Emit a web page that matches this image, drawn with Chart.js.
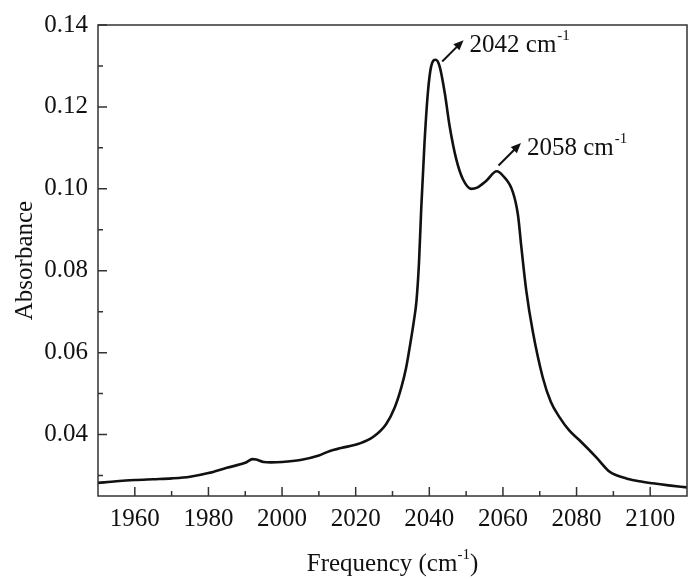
<!DOCTYPE html>
<html>
<head>
<meta charset="utf-8">
<script src="https://cdn.jsdelivr.net/npm/chart.js@4/dist/chart.umd.min.js"></script>
<style>
  html, body { margin: 0; padding: 0; background: #fff; }
  #wrap { width: 688px; height: 579px; }
</style>
</head>
<body>
<div id="wrap"><canvas id="irChart" width="688" height="579"></canvas></div>
<script>
// === Data ===
const frequency = [1950, 1955, 1960, 1965, 1970, 1975, 1980, 1985, 1990, 1992, 1993, 1995, 1997, 2000,
  2005, 2010, 2013, 2016, 2021, 2024.7, 2028.3, 2030.6, 2032.4, 2033.7, 2034.8, 2035.8, 2036.5, 2037.2, 2037.8,
  2038.7, 2039.6, 2040.5, 2041.7, 2042.8, 2044.2, 2045.5, 2047.3, 2049.1, 2051.4, 2053, 2055.5,
  2058.3, 2060, 2062.7, 2064.1, 2065, 2066.3, 2068.1, 2070.8, 2073, 2075.4, 2078, 2080.8, 2085.3,
  2089, 2091, 2093.5, 2097, 2100.7, 2105, 2110];
const absorbance = [0.0282, 0.0286, 0.0289, 0.0291, 0.0293, 0.0297, 0.0306, 0.0319, 0.0331, 0.0340, 0.0339, 0.0333, 0.0332, 0.0333,
  0.0338, 0.0349, 0.0360, 0.0367, 0.0378, 0.0394, 0.0426, 0.0466, 0.0515, 0.0563, 0.0620, 0.0677, 0.0725, 0.0820, 0.0951,
  0.1113, 0.1234, 0.1299, 0.1315, 0.1299, 0.1234, 0.1154, 0.1073, 0.1024, 0.1000, 0.1003, 0.1020,
  0.1043, 0.1032, 0.0992, 0.0935, 0.0858, 0.0754, 0.0652, 0.0540, 0.0480, 0.0442, 0.0410, 0.0386, 0.0345,
  0.0309, 0.0300, 0.0293, 0.0286, 0.0281, 0.0276, 0.0271];

const xMajorTicks = [1960, 1980, 2000, 2020, 2040, 2060, 2080, 2100];
const xMinorTicks = [1970, 1990, 2010, 2030, 2050, 2070, 2090];
const yMajorTicks = [0.04, 0.06, 0.08, 0.10, 0.12, 0.14];
const yMinorTicks = [0.03, 0.05, 0.07, 0.09, 0.11, 0.13];

// peak labels: arrow start, arrow tip, text
const peakNotes = [
  { from: [2043.5, 0.1311], to: [2049.3, 0.1363], label: "2042 cm", sup: "-1" },
  { from: [2058.8, 0.1057], to: [2064.9, 0.1112], label: "2058 cm", sup: "-1" },
];

const FONT = "'Liberation Serif', 'Times New Roman', serif";
const INK = "#111";

const points = frequency.map((f, i) => ({ x: f, y: absorbance[i] }));

// === frame, inward ticks, titles and peak arrows ===
const decorPlugin = {
  id: "decor",
  afterDraw(chart) {
    const { ctx, chartArea: a, scales } = chart;
    const xs = scales.x, ys = scales.y;
    ctx.save();
    ctx.strokeStyle = "#333";
    ctx.lineWidth = 1.5;
    ctx.strokeRect(a.left, a.top, a.right - a.left, a.bottom - a.top);

    ctx.beginPath();
    xMajorTicks.forEach(v => { const p = xs.getPixelForValue(v); ctx.moveTo(p, a.bottom); ctx.lineTo(p, a.bottom - 9); });
    xMinorTicks.forEach(v => { const p = xs.getPixelForValue(v); ctx.moveTo(p, a.bottom); ctx.lineTo(p, a.bottom - 5); });
    yMajorTicks.forEach(v => { const p = ys.getPixelForValue(v); ctx.moveTo(a.left, p); ctx.lineTo(a.left + 9, p); });
    yMinorTicks.forEach(v => { const p = ys.getPixelForValue(v); ctx.moveTo(a.left, p); ctx.lineTo(a.left + 5, p); });
    ctx.stroke();

    // axis titles
    ctx.fillStyle = INK;
    ctx.textBaseline = "middle";
    const main = "Frequency (cm", sup = "-1", tail = ")";
    ctx.font = "25px " + FONT;
    const wMain = ctx.measureText(main).width;
    const wTail = ctx.measureText(tail).width;
    ctx.font = "15px " + FONT;
    const wSup = ctx.measureText(sup).width;
    const tx = (a.left + a.right) / 2 - (wMain + wSup + wTail) / 2;
    const ty = 564;
    ctx.textAlign = "left";
    ctx.font = "25px " + FONT;
    ctx.fillText(main, tx, ty);
    ctx.font = "15px " + FONT;
    ctx.fillText(sup, tx + wMain, ty - 9);
    ctx.font = "25px " + FONT;
    ctx.fillText(tail, tx + wMain + wSup, ty);

    ctx.save();
    ctx.translate(25, (a.top + a.bottom) / 2);
    ctx.rotate(-Math.PI / 2);
    ctx.textAlign = "center";
    ctx.fillText("Absorbance", 0, 0);
    ctx.restore();

    // peak arrows and labels
    peakNotes.forEach(n => {
      const x0 = xs.getPixelForValue(n.from[0]), y0 = ys.getPixelForValue(n.from[1]);
      const x1 = xs.getPixelForValue(n.to[0]), y1 = ys.getPixelForValue(n.to[1]);
      const ang = Math.atan2(y1 - y0, x1 - x0);
      const head = 11;
      ctx.strokeStyle = INK;
      ctx.lineWidth = 2;
      ctx.beginPath();
      ctx.moveTo(x0, y0);
      ctx.lineTo(x1 - Math.cos(ang) * head * 0.8, y1 - Math.sin(ang) * head * 0.8);
      ctx.stroke();
      ctx.beginPath();
      ctx.moveTo(x1, y1);
      ctx.lineTo(x1 - head * Math.cos(ang - 0.4), y1 - head * Math.sin(ang - 0.4));
      ctx.lineTo(x1 - head * Math.cos(ang + 0.4), y1 - head * Math.sin(ang + 0.4));
      ctx.closePath();
      ctx.fill();

      const lx = x1 + 6, ly = y1 + 5;
      ctx.textAlign = "left";
      ctx.font = "25px " + FONT;
      ctx.fillText(n.label, lx, ly);
      const w = ctx.measureText(n.label).width;
      ctx.font = "15px " + FONT;
      ctx.fillText(n.sup, lx + w + 1, ly - 9);
    });
    ctx.restore();
  }
};

new Chart(document.getElementById("irChart"), {
  type: "scatter",
  data: {
    datasets: [{
      data: points,
      showLine: true,
      borderColor: INK,
      borderWidth: 2.6,
      pointRadius: 0,
      tension: 0.4,
      cubicInterpolationMode: "monotone",
      fill: false,
    }]
  },
  options: {
    responsive: false,
    animation: false,
    events: [],
    layout: { padding: { top: 22, right: 1, left: 0, bottom: 0 } },
    plugins: { legend: { display: false }, tooltip: { enabled: false } },
    scales: {
      x: {
        type: "linear",
        min: 1950, max: 2110,
        grid: { display: false, drawTicks: false },
        border: { display: false },
        afterBuildTicks: s => { s.ticks = xMajorTicks.map(v => ({ value: v })); },
        afterFit: s => { s.height = 83; },
        ticks: { color: INK, font: { family: FONT, size: 25 }, padding: 8, maxRotation: 0, callback: v => String(v) },
      },
      y: {
        type: "linear",
        min: 0.025, max: 0.14,
        grid: { display: false, drawTicks: false },
        border: { display: false },
        afterBuildTicks: s => { s.ticks = yMajorTicks.map(v => ({ value: v })); },
        afterFit: s => { s.width = 98; },
        ticks: { color: INK, font: { family: FONT, size: 25 }, padding: 10, callback: v => Number(v).toFixed(2) },
      },
    },
  },
  plugins: [decorPlugin],
});
</script>
</body>
</html>
